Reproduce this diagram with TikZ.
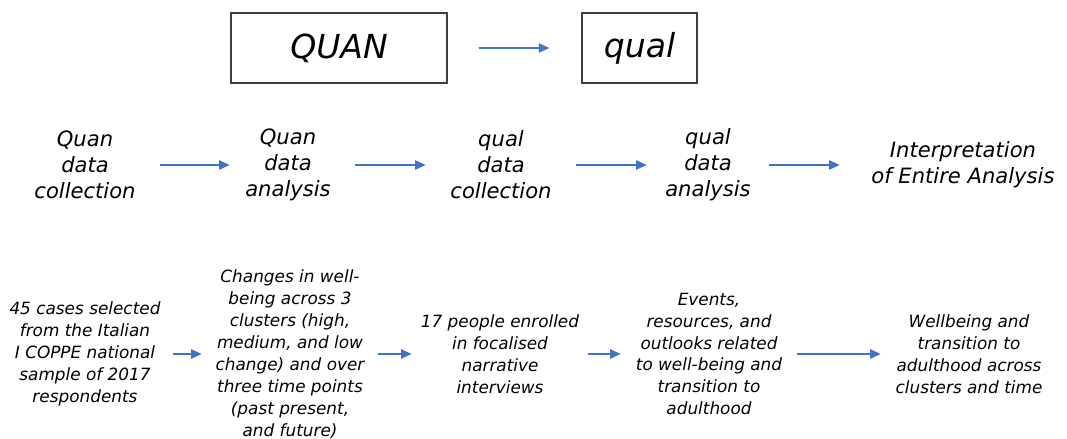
\documentclass[tikz,border=0pt]{standalone}
\usepackage{fontspec}
\setmainfont{DejaVu Sans}
\usepackage{tikz}
\usetikzlibrary{arrows.meta,positioning}
\definecolor{mmblue}{HTML}{4472C4}
\definecolor{mmgray}{HTML}{404040}

\begin{document}
\begin{tikzpicture}[
 phase/.style={draw=mmgray,line width=1pt,minimum height=17.5mm,inner sep=0pt,font=\itshape\fontsize{23.5}{27}\selectfont},
 stage/.style={align=center,inner sep=0pt,font=\itshape\fontsize{15}{18.5}\selectfont},
 detail/.style={align=center,inner sep=0pt,minimum width=44mm,font=\itshape\fontsize{12}{15.6}\selectfont},
 arr/.style={-{Triangle[length=7.5pt,width=6.5pt]},draw=mmblue,line width=1.3pt}
]
\useasboundingbox (0,0) rectangle (26.675,-10.975);
% design
\node[phase,minimum width=54mm] (quan) at (8.475,-1.2) {QUAN};
\node[phase,minimum width=28.75mm] (qual) at (15.99,-1.2) {qual};
\draw[arr,shorten <=7.75mm,shorten >=8mm] (quan)--(qual);

% procedures
\node[stage,minimum width=37.5mm] (q1) at (2.125,-4.125) {Quan\\data\\collection};
\node[stage,minimum width=29mm] (q2) at (7.2,-4.125) {Quan\\data\\analysis};
\node[stage,minimum width=37.5mm] (q3) at (12.525,-4.125) {qual\\data\\collection};
\node[stage,minimum width=30.5mm] (q4) at (17.7,-4.125) {qual\\data\\analysis};
\node[stage,minimum width=61.5mm] (q5) at (24.075,-4.125) {Interpretation\\of Entire Analysis};
\draw[arr] (q1)--(q2); \draw[arr,shorten <=2.25mm] (q2)--(q3);
\draw[arr] (q3)--(q4); \draw[arr] (q4)--(q5);

% products
\node[detail] (r1) at (2.125,-8.85) {45 cases selected\\from the Italian\\I COPPE national\\sample of 2017\\respondents};
\node[detail] (r2) at (7.25,-8.85) {Changes in well-\\being across 3\\clusters (high,\\medium, and low\\change) and over\\three time points\\(past present,\\and future)};
\node[detail] (r3) at (12.5,-8.85) {17 people enrolled\\in focalised\\narrative\\interviews};
\node[detail] (r4) at (17.725,-8.85) {Events,\\resources, and\\outlooks related\\to well-being and\\transition to\\adulthood};
\node[detail] (r5) at (24.225,-8.85) {Wellbeing and\\transition to\\adulthood across\\clusters and time};
\draw[arr] (r1)--(r2); \draw[arr] (r2)--(r3);
\draw[arr] (r3)--(r4); \draw[arr] (r4)--(r5);
\end{tikzpicture}
\end{document}
